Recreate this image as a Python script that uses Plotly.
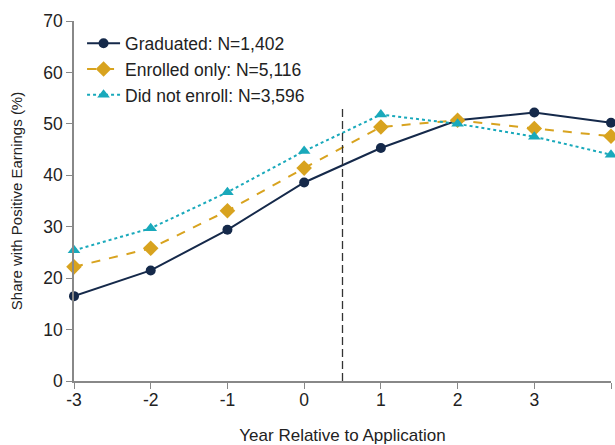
import plotly.graph_objects as go

years = [-3, -2, -1, 0, 1, 2, 3, 4]
year_labels = ["-3", "-2", "-1", "0", "1", "2", "3", "4"]
graduated = [16.5, 21.5, 29.4, 38.6, 45.3, 50.7, 52.2, 50.2]
enrolled_only = [22.2, 25.8, 33.1, 41.4, 49.4, 50.7, 49.1, 47.6]
did_not_enroll = [25.4, 29.7, 36.7, 44.7, 51.8, 50.0, 47.5, 44.0]
names = ["Graduated: N=1,402", "Enrolled only: N=5,116", "Did not enroll: N=3,596"]
y_ticks = [0, 10, 20, 30, 40, 50, 60, 70]

navy = "#15294a"
gold = "#d8a31f"
teal = "#19a9bb"

fig = go.Figure()
fig.add_trace(go.Scatter(x=years, y=graduated, name=names[0], mode="lines+markers",
                         line=dict(color=navy, width=2, dash="solid"),
                         marker=dict(symbol="circle", size=10, color=navy), cliponaxis=False))
fig.add_trace(go.Scatter(x=years, y=enrolled_only, name=names[1], mode="lines+markers",
                         line=dict(color=gold, width=2, dash="dash"),
                         marker=dict(symbol="diamond", size=12, color=gold), cliponaxis=False))
fig.add_trace(go.Scatter(x=years, y=did_not_enroll, name=names[2], mode="lines+markers",
                         line=dict(color=teal, width=2, dash="dot"),
                         marker=dict(symbol="triangle-up", size=11, color=teal), cliponaxis=False))

fig.add_shape(type="line", x0=0.5, x1=0.5, y0=0, y1=53, xref="x", yref="y",
              line=dict(color="#333333", width=1.3, dash="8px,4px"))

fig.update_layout(
    width=615, height=445,
    margin=dict(l=74, r=4, t=21, b=64),
    paper_bgcolor="white", plot_bgcolor="white",
    font=dict(family="Liberation Sans, Arial, sans-serif", color="#222222"),
    showlegend=True,
    legend=dict(x=0.015, y=0.988, xanchor="left", yanchor="top",
                font=dict(size=17.5, color="#222222"), bgcolor="rgba(0,0,0,0)",
                tracegroupgap=0, itemwidth=33),
    xaxis=dict(range=[-3, 4], tickvals=years, ticktext=year_labels, ticks="outside", ticklen=6,
               tickcolor="#888888", showline=True, linecolor="#888888", linewidth=1.5,
               showgrid=False, zeroline=False, tickfont=dict(size=17.5), automargin=False,
               ticklabelstandoff=-4,
               title=dict(text="Year Relative to Application", font=dict(size=17), standoff=24)),
    yaxis=dict(range=[0, 70], tickvals=y_ticks, ticks="outside", ticklen=6,
               tickcolor="#888888", showline=True, linecolor="#888888", linewidth=1.5,
               showgrid=False, zeroline=False, tickfont=dict(size=17.5), automargin=False,
               title=dict(text="Share with Positive Earnings (%)", font=dict(size=15), standoff=17)),
)

fig.write_html("out.html", config={"displayModeBar": False},
               post_script="document.body.style.margin='0';document.body.style.overflow='hidden';")
